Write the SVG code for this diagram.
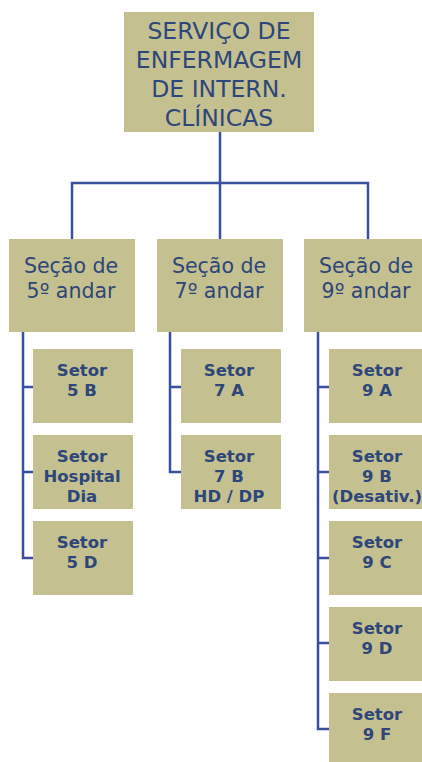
<svg xmlns="http://www.w3.org/2000/svg" width="422" height="762" viewBox="0 0 422 762">
<style>
.box{fill:#C4C08F}
.t{font-family:"DejaVu Sans",Verdana,sans-serif;fill:#2E4679;text-anchor:middle}
.top{font-size:23.5px}
.sec{font-size:20.5px}
.sub{font-size:16.5px;font-weight:bold}
.ln{fill:none;stroke:#3A4F9E;stroke-width:2.5}
</style>
<rect width="422" height="762" fill="#fff"/>
<g id="connectors">
<path class="ln" d="M220 132V239M72 239V183H368V239"/>
<path class="ln" d="M23 332V558H33M23 387H33M23 472H33"/>
<path class="ln" d="M170 332V472H181M170 387H181"/>
<path class="ln" d="M318 332V729H329M318 387H329M318 472H329M318 558H329M318 643H329"/>
</g>
<g id="root"><rect class="box" x="124" y="12" width="190" height="120"/>
<text class="t top" x="219" y="39">SERVIÇO DE</text>
<text class="t top" x="219" y="68">ENFERMAGEM</text>
<text class="t top" x="219" y="97">DE INTERN.</text>
<text class="t top" x="219" y="126">CLÍNICAS</text></g>
<g id="sec5"><rect class="box" x="9" y="239" width="126" height="93"/>
<text class="t sec" x="71" y="273">Seção de</text><text class="t sec" x="71" y="298">5º andar</text></g>
<g id="sec7"><rect class="box" x="157" y="239" width="126" height="93"/>
<text class="t sec" x="219" y="273">Seção de</text><text class="t sec" x="219" y="298">7º andar</text></g>
<g id="sec9"><rect class="box" x="304" y="239" width="126" height="93"/>
<text class="t sec" x="366" y="273">Seção de</text><text class="t sec" x="366" y="298">9º andar</text></g>
<g id="s5b"><rect class="box" x="33" y="349" width="100" height="74"/>
<text class="t sub" x="82" y="376">Setor</text><text class="t sub" x="82" y="396">5 B</text></g>
<g id="s5hd"><rect class="box" x="33" y="435" width="100" height="74"/>
<text class="t sub" x="82" y="462">Setor</text><text class="t sub" x="82" y="482">Hospital</text><text class="t sub" x="82" y="502">Dia</text></g>
<g id="s5d"><rect class="box" x="33" y="521" width="100" height="74"/>
<text class="t sub" x="82" y="548">Setor</text><text class="t sub" x="82" y="568">5 D</text></g>
<g id="s7a"><rect class="box" x="181" y="349" width="100" height="74"/>
<text class="t sub" x="229" y="376">Setor</text><text class="t sub" x="229" y="396">7 A</text></g>
<g id="s7b"><rect class="box" x="181" y="435" width="100" height="74"/>
<text class="t sub" x="229" y="462">Setor</text><text class="t sub" x="229" y="482">7 B</text><text class="t sub" x="229" y="502">HD / DP</text></g>
<g id="s9a"><rect class="box" x="329" y="349" width="100" height="74"/>
<text class="t sub" x="377" y="376">Setor</text><text class="t sub" x="377" y="396">9 A</text></g>
<g id="s9b"><rect class="box" x="329" y="435" width="100" height="74"/>
<text class="t sub" x="377" y="462">Setor</text><text class="t sub" x="377" y="482">9 B</text><text class="t sub" x="377" y="502">(Desativ.)</text></g>
<g id="s9c"><rect class="box" x="329" y="521" width="100" height="74"/>
<text class="t sub" x="377" y="548">Setor</text><text class="t sub" x="377" y="568">9 C</text></g>
<g id="s9d"><rect class="box" x="329" y="607" width="100" height="74"/>
<text class="t sub" x="377" y="634">Setor</text><text class="t sub" x="377" y="654">9 D</text></g>
<g id="s9f"><rect class="box" x="329" y="693" width="100" height="74"/>
<text class="t sub" x="377" y="720">Setor</text><text class="t sub" x="377" y="740">9 F</text></g>
</svg>
